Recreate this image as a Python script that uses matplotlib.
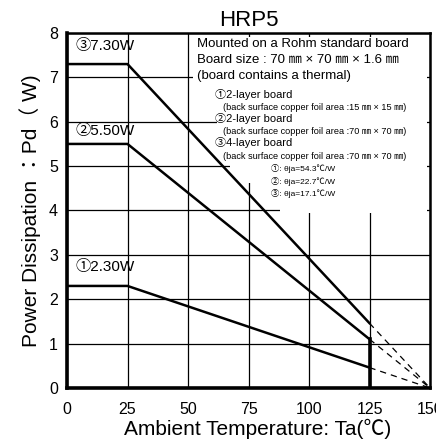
import numpy as np
import matplotlib
matplotlib.use('Agg')
import matplotlib.pyplot as plt
from matplotlib.patches import Rectangle

plt.rcParams['font.family'] = ['Liberation Sans', 'Noto Sans CJK JP', 'DejaVu Sans']

# derating curves (Ta in degC, Pd in W)
ta = [0, 25, 125]
ta_dash = [125, 150]
pd1 = [2.30, 2.30, 0.46]
pd2 = [5.50, 5.50, 1.10]
pd3 = [7.30, 7.30, 1.46]
pd1_dash = [0.46, 0.0]
pd2_dash = [1.10, 0.0]
pd3_dash = [1.46, 0.0]

peak_labels = ['\u24627.30W', '\u24615.50W', '\u24602.30W']

xticks = [0, 25, 50, 75, 100, 125, 150]
yticks = [0, 1, 2, 3, 4, 5, 6, 7, 8]

fig = plt.figure(figsize=(4.36, 4.44), dpi=100)
ax = fig.add_axes([67/436, 1-388/444, 363/436, 355/444])
ax.set_xlim(0, 150)
ax.set_ylim(0, 8)
ax.set_xticks(xticks)
ax.set_yticks(yticks)
ax.set_axisbelow(True)
ax.grid(True, color='black', linewidth=0.9)
ax.tick_params(axis='both', length=0, labelsize=11.5)
ax.tick_params(axis='x', pad=10)
ax.tick_params(axis='y', pad=6.5)

for side in ['left', 'bottom']:
    ax.spines[side].set_linewidth(2.6)
for side in ['top', 'right']:
    ax.spines[side].set_linewidth(1.8)

# white areas behind the note text (they hide the grid)
for x0, y0, x1, y1 in [(52.1, 6.5, 148.8, 7.92), (62.0, 5.37, 148.8, 6.5),
                       (67.4, 4.63, 148.8, 5.37), (88.0, 3.95, 148.8, 4.63)]:
    ax.add_patch(Rectangle((x0, y0), x1 - x0, y1 - y0, facecolor='white',
                           edgecolor='none', zorder=1))

for p, pdash in [(pd1, pd1_dash), (pd2, pd2_dash), (pd3, pd3_dash)]:
    ax.plot(ta, p, color='black', linewidth=1.8, zorder=3)
    ax.plot(ta_dash, pdash, color='black', linewidth=0.9, dashes=(5, 4), zorder=3)

ax.plot([ta[2], ta[2]], [0, pd2[2]], color='black', linewidth=2.6, zorder=3)

ax.text(3.3, 7.70, peak_labels[0], fontsize=11, va='center', ha='left', zorder=4)
ax.text(3.3, 5.80, peak_labels[1], fontsize=11, va='center', ha='left', zorder=4)
ax.text(3.3, 2.73, peak_labels[2], fontsize=11, va='center', ha='left', zorder=4)

notes = [
    (53.7, 7.745, 'Mounted on a Rohm standard board', 9.5),
    (53.7, 7.384, 'Board size : 70 \u339c \u00d7 70 \u339c \u00d7 1.6 \u339c', 9.5),
    (53.7, 7.022, '(board contains a thermal)', 9.5),
    (61.2, 6.615, '\u24602-layer board', 8),
    (64.5, 6.321, '(back surface copper foil area :15 \u339c \u00d7 15 \u339c)', 6.6),
    (61.2, 6.072, '\u24612-layer board', 8),
    (64.5, 5.778, '(back surface copper foil area :70 \u339c \u00d7 70 \u339c)', 6.6),
    (61.2, 5.530, '\u24624-layer board', 8),
    (64.5, 5.213, '(back surface copper foil area :70 \u339c \u00d7 70 \u339c)', 6.6),
    (84.3, 4.942, '\u2460: \u03b8ja=54.3\u2103/W', 6),
    (84.3, 4.648, '\u2461: \u03b8ja=22.7\u2103/W', 6),
    (84.3, 4.377, '\u2462: \u03b8ja=17.1\u2103/W', 6),
]
for x, y, s, fs in notes:
    ax.text(x, y, s, fontsize=fs, va='center', ha='left', zorder=4)

ax.set_title('HRP5', fontsize=16, pad=5)
ax.set_xlabel('Ambient Temperature: Ta(\u2103)', fontsize=15, va='baseline')
ax.xaxis.set_label_coords(0.525, -0.132)
ax.set_ylabel('Power Dissipation \uff1aPd\uff08 W)', fontsize=15, labelpad=6)

fig.savefig('out.png', dpi=100)
